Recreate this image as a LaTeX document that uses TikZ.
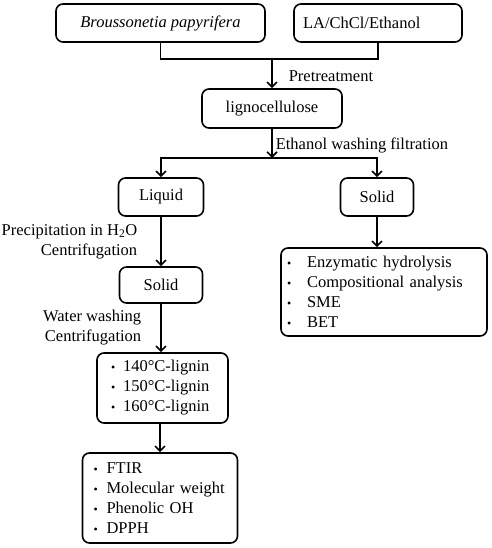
\documentclass[tikz,border=0pt]{standalone}
\usepackage{fontspec}
\setmainfont{Liberation Serif}
\usetikzlibrary{arrows.meta}
\newcommand{\bul}[1][13pt]{\makebox[#1][l]{\fontsize{12}{12}\selectfont\textbullet}}
\begin{document}
\begin{tikzpicture}[x=1pt,y=-1pt]
        \tikzset{vertex/.style = {shape=rectangle,draw,line width=1.6pt,rounded corners=7pt,inner sep=0pt,font=\fontsize{16.5}{20}\selectfont}}
        \tikzset{listbox/.style = {vertex,align=left}}
        \tikzset{edge/.style = {line width=1.6pt,-{Straight Barb[length=5pt,width=10pt,line width=1.6pt]}}}
        \tikzset{link/.style = {line width=1.6pt}}
        \tikzset{lbl/.style = {font=\fontsize{16.5}{20}\selectfont,inner sep=0pt}}
        \useasboundingbox (0,0) rectangle (491,548);
        \node[vertex,minimum width=209pt,minimum height=38pt] (bp) at (160.5,23) {\textit{Broussonetia papyrifera}};
        \node[vertex,minimum height=38pt,text width=150pt,inner xsep=9pt,align=left] (la) at (378,23) {LA/ChCl/Ethanol};
        \node[vertex,minimum width=140pt,minimum height=39pt] (lig) at (272,108.5) {lignocellulose};
        \node[vertex,minimum width=85pt,minimum height=38pt] (liq) at (161,197) {Liquid};
        \node[vertex,minimum width=73pt,minimum height=38pt] (sr) at (377,197) {Solid};
        \node[vertex,minimum width=83pt,minimum height=36pt] (sl) at (161,285) {Solid};
        \node[listbox,minimum height=88pt,text width=194pt,inner xsep=6pt] (an) at (384,292)
            {\bul[20pt]Enzymatic hydrolysis\\\bul[20pt]Compositional analysis\\\bul[20pt]SME\\\bul[20pt]BET};
        \node[listbox,minimum height=70pt,text width=103pt,inner xsep=14pt] (tl) at (162.5,388)
            {\bul[12pt]140\textdegree C-lignin\\\bul[12pt]150\textdegree C-lignin\\\bul[12pt]160\textdegree C-lignin};
        \node[listbox,minimum height=90pt,text width=133pt,inner xsep=11pt] (ch) at (160,498)
            {\bul FTIR\\\bul Molecular weight\\\bul Phenolic OH\\\bul DPPH};
        \coordinate (j1) at (272,58);
        \coordinate (j2) at (272,158);
        \draw[link] (bp.south) -- ++(0,16) -| (la.south);
        \draw[edge] (j1) -- node[lbl,anchor=west,xshift=16pt,yshift=-3pt] (pre) {Pretreatment} (lig.north);
        \draw[edge] (lig.south) -- node[lbl,anchor=west,xshift=3pt,yshift=-2pt] (ewf) {Ethanol washing filtration} (j2);
        \draw[edge] (j2) -| (liq.north);
        \draw[edge] (j2) -| (sr.north);
        \draw[edge] (liq.south) -- node[lbl,anchor=east,align=right,xshift=-23pt,yshift=0pt] (pc) {Precipitation in H\textsubscript{2}O\\Centrifugation} (liq.south |- sl.north);
        \draw[edge] (sr.south) -- (sr.south |- an.north);
        \draw[edge] (sl.south) -- node[lbl,anchor=east,align=right,xshift=-19pt,yshift=0pt] (wc) {Water washing\\Centrifugation} (sl.south |- tl.north);
        \draw[edge] (tl.south -| ch.north) -- (ch.north);
\end{tikzpicture}
\end{document}
